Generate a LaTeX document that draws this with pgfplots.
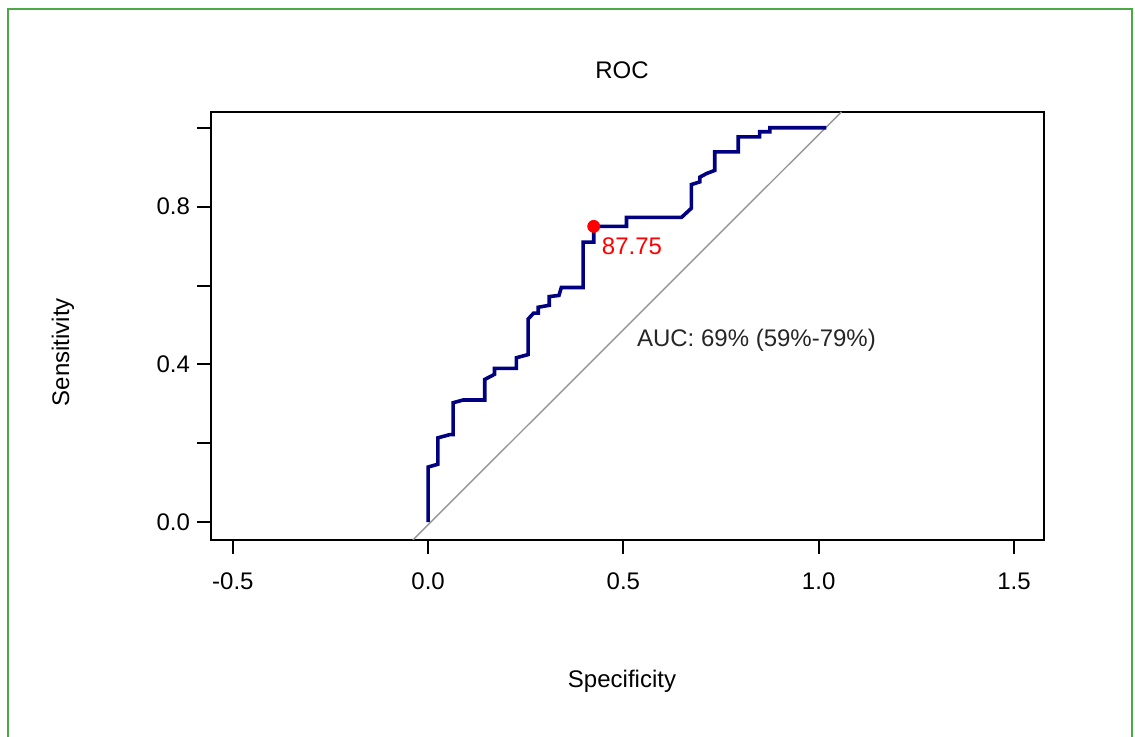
\documentclass[border=0pt]{standalone}
\usepackage{fontspec}
\setmainfont{Liberation Sans}
\usepackage{pgfplots}
\pgfplotsset{compat=1.18}
\definecolor{rocblue}{RGB}{0,0,128}
\definecolor{framegreen}{RGB}{76,170,70}
\definecolor{diaggray}{RGB}{150,150,150}
\begin{document}
\begin{tikzpicture}
\useasboundingbox (0,0) rectangle (567.5pt,368.5pt);
\draw[framegreen, line width=1.2pt] (4pt,0) -- (4pt,364pt) -- (566pt,364pt) -- (566pt,0);
\begin{axis}[
  at={(105.5pt,98.5pt)}, anchor=south west,
  scale only axis, width=416.5pt, height=214pt,
  xmin=-0.556, xmax=1.577, ymin=-0.045, ymax=1.04,
  axis line style={line width=1pt},
  tick align=outside, xtick pos=lower, ytick pos=left,
  major tick length=7pt,
  tick style={line width=1pt, black},
  xtick={-0.5,0,0.5,1,1.5}, xticklabels={-0.5,0.0,0.5,1.0,1.5},
  xticklabel style={yshift=-6pt},
  ytick={0,0.2,0.4,0.6,0.8,1.0}, yticklabels={0.0,,0.4,,0.8,},
  font=\fontsize{12}{14}\selectfont,
  title={ROC},
  title style={at={(0.4934,1.098)}, anchor=center, yshift=-6pt},
  xlabel={Specificity},
  xlabel style={at={(0.4934,-0.3294)}, anchor=center},
  ylabel={Sensitivity},
  ylabel style={at={(-0.1777,0.439)}, anchor=center},
]
\addplot[diaggray, line width=0.7pt] coordinates {(-0.039,-0.045) (1.058,1.04)};
\addplot[rocblue, line width=1.8pt] coordinates {
(0,0) (0,0.14) (0.025,0.147) (0.025,0.214) (0.055,0.222) (0.064,0.222)
(0.064,0.303) (0.09,0.31) (0.145,0.31) (0.145,0.362) (0.17,0.375)
(0.17,0.39) (0.226,0.39) (0.226,0.417) (0.256,0.425) (0.256,0.515)
(0.27,0.53) (0.282,0.53) (0.282,0.545) (0.31,0.55) (0.31,0.572)
(0.335,0.575) (0.341,0.595) (0.397,0.595) (0.397,0.71) (0.424,0.71)
(0.424,0.75) (0.508,0.75) (0.508,0.773) (0.649,0.773) (0.674,0.796)
(0.674,0.856) (0.696,0.863) (0.696,0.875) (0.713,0.884) (0.734,0.892)
(0.734,0.939) (0.794,0.939) (0.794,0.977) (0.849,0.977) (0.849,0.99)
(0.875,0.99) (0.875,1.0) (1.02,1.0)
};
\addplot[only marks, mark=*, red, mark size=3pt] coordinates {(0.424,0.75)};
\node[anchor=west, inner sep=0pt, red] at (axis cs:0.444,0.699) {87.75};
\node[anchor=west, inner sep=0pt, black!85] at (axis cs:0.534,0.461) {AUC: 69\% (59\%-79\%)};
\end{axis}
\end{tikzpicture}
\end{document}
